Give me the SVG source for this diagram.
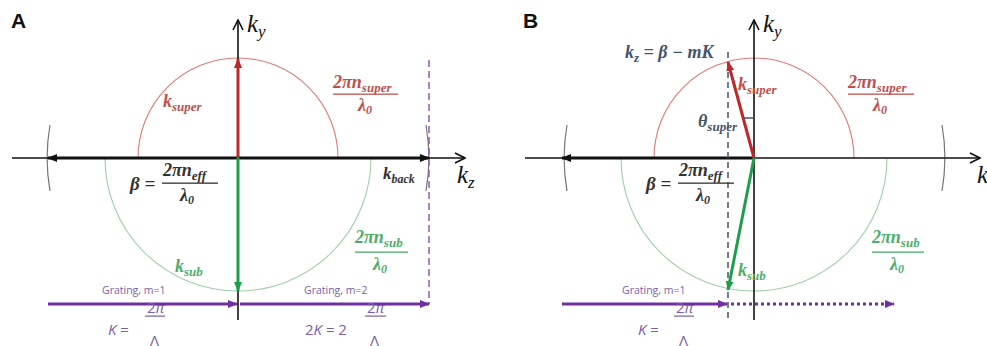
<svg xmlns="http://www.w3.org/2000/svg" width="987" height="346" viewBox="0 0 987 346">
<defs>
<style>
.ax{stroke:#111;stroke-width:1.6;fill:none}
.thick{stroke:#111;stroke-width:3;fill:none}
.red{stroke:#c0272d;stroke-width:3;fill:none}
.grn{stroke:#1e9e4c;stroke-width:3;fill:none}
.pur{stroke:#7030a0;stroke-width:3;fill:none}
.rc{stroke:#e07a78;stroke-width:1.1;fill:none}
.gc{stroke:#9fd0ab;stroke-width:1.1;fill:none}
.gray{stroke:#777;stroke-width:1.2;fill:none}
.m{font-family:"Liberation Serif",serif;font-style:italic;font-weight:bold}
.big{font-family:"Liberation Serif",serif;font-style:italic;font-size:25px;fill:#111}
.tr{fill:#c0504d}
.tg{fill:#4dae6a}
.tk{fill:#333}
.tb{fill:#44546a}
.s{font-family:"Open Sans",sans-serif;font-size:10.5px;fill:#7b5ea7}
.kp{font-family:"Open Sans",sans-serif;font-size:15px;fill:#7b5ea7}
.lab{font-family:"Liberation Sans",sans-serif;font-weight:bold;font-size:21px;fill:#111}
</style>
<marker id="open" viewBox="0 0 12 12" refX="11" refY="6" markerWidth="12" markerHeight="12" markerUnits="userSpaceOnUse" orient="auto"><path d="M1,1 L11,6 L1,11" fill="none" stroke="#111" stroke-width="1.6"/></marker>
<marker id="hk" viewBox="0 0 10 10" refX="9" refY="5" markerWidth="10" markerHeight="10" markerUnits="userSpaceOnUse" orient="auto-start-reverse"><path d="M0,1 L10,5 L0,9 Z" fill="#111"/></marker>
<marker id="hr" viewBox="0 0 10 10" refX="9" refY="5" markerWidth="10" markerHeight="10" markerUnits="userSpaceOnUse" orient="auto"><path d="M0,1 L10,5 L0,9 Z" fill="#c0272d"/></marker>
<marker id="hg" viewBox="0 0 10 10" refX="9" refY="5" markerWidth="10" markerHeight="10" markerUnits="userSpaceOnUse" orient="auto"><path d="M0,1 L10,5 L0,9 Z" fill="#1e9e4c"/></marker>
<marker id="hp" viewBox="0 0 10 10" refX="9" refY="5" markerWidth="10" markerHeight="10" markerUnits="userSpaceOnUse" orient="auto"><path d="M0,1 L10,5 L0,9 Z" fill="#7030a0"/></marker>
</defs>

<g id="panelA-label"><text class="lab" x="11" y="28">A</text></g>
<g id="panelB-label"><text class="lab" x="523" y="28">B</text></g>

<g id="circlesA">
<path class="rc" d="M138,158 A100,100 0 0 1 338,158"/>
<path class="gc" d="M105,158 A133,133 0 0 0 371,158"/>
<path class="gray" d="M50,125 A191,191 0 0 0 50,191"/>
<path class="gray" d="M426,125 A191,191 0 0 1 426,191"/>
</g>
<g id="circlesB">
<path class="rc" d="M654,158 A100,100 0 0 1 854,158"/>
<path class="gc" d="M621,158 A133,133 0 0 0 887,158"/>
<path class="gray" d="M567,125 A190,190 0 0 0 567,191"/>
<path class="gray" d="M942,125 A191,191 0 0 1 942,191"/>
</g>

<g id="connectors">
<!-- panel A -->
<line class="ax" x1="12" y1="158" x2="465" y2="158" marker-end="url(#open)"/>
<line class="ax" x1="238" y1="320" x2="238" y2="20" marker-end="url(#open)"/>
<line class="thick" x1="48" y1="158" x2="429" y2="158" marker-start="url(#hk)" marker-end="url(#hk)"/>
<line class="red" x1="238" y1="158" x2="238" y2="59" marker-end="url(#hr)"/>
<line class="grn" x1="238" y1="158" x2="238" y2="291" marker-end="url(#hg)"/>
<line x1="429" y1="60" x2="429" y2="304" stroke="#8a5fb0" stroke-width="1.5" stroke-dasharray="7,4"/>
<line class="pur" x1="48" y1="304" x2="237" y2="304" marker-end="url(#hp)"/>
<line class="pur" x1="240" y1="304" x2="429" y2="304" marker-end="url(#hp)"/>
<!-- panel B -->
<line class="ax" x1="525" y1="158" x2="980" y2="158" marker-end="url(#open)"/>
<line class="ax" x1="754" y1="320" x2="754" y2="20" marker-end="url(#open)"/>
<line class="thick" x1="562" y1="158" x2="754" y2="158" marker-start="url(#hk)"/>
<line x1="728" y1="52" x2="728" y2="320" stroke="#44546a" stroke-width="1.5" stroke-dasharray="6,4"/>
<line class="red" x1="754" y1="158" x2="728" y2="62" marker-end="url(#hr)"/>
<line class="grn" x1="754" y1="158" x2="728" y2="290" marker-end="url(#hg)"/>
<line x1="744" y1="118" x2="754" y2="118" stroke="#44546a" stroke-width="1.5"/>
<line class="pur" x1="562" y1="304" x2="727" y2="304" marker-end="url(#hp)"/>
<line class="pur" x1="731" y1="304" x2="894" y2="304" stroke-dasharray="3,3" marker-end="url(#hp)"/>
</g>

<g id="labelsA">
<text class="big" x="247" y="32">k<tspan font-size="17" dy="5">y</tspan></text>
<text class="big" x="457" y="183">k<tspan font-size="17" dy="5">z</tspan></text>
<text class="m tr" x="163" y="107" font-size="18">k<tspan font-size="13" dy="4">super</tspan></text>
<g class="m tr">
<text x="333" y="88" font-size="18">2πn<tspan font-size="13" dy="4">super</tspan></text>
<rect x="333" y="93.5" width="65" height="1.3" fill="#c0504d"/>
<text x="358" y="111" font-size="18">λ<tspan font-size="12" dy="3">0</tspan></text>
</g>
<g class="m tk">
<text x="130" y="190" font-size="19">β =</text>
<text x="163" y="176" font-size="18">2πn<tspan font-size="13" dy="4">eff</tspan></text>
<rect x="162" y="182.5" width="56" height="1.3" fill="#333"/>
<text x="180" y="201" font-size="18">λ<tspan font-size="12" dy="3">0</tspan></text>
</g>
<text class="m tk" x="383" y="179" font-size="17">k<tspan font-size="12" dy="4">back</tspan></text>
<g class="m tg">
<text x="355" y="243" font-size="18">2πn<tspan font-size="13" dy="4">sub</tspan></text>
<rect x="355" y="251.5" width="53" height="1.3" fill="#4dae6a"/>
<text x="373" y="270" font-size="18">λ<tspan font-size="12" dy="3">0</tspan></text>
</g>
<text class="m tg" x="175" y="272" font-size="18">k<tspan font-size="13" dy="4">sub</tspan></text>
<text class="s" x="102" y="294">Grating, m=1</text>
<text class="s" x="304" y="294">Grating, m=2</text>
<text class="kp" x="108" y="335"><tspan font-style="italic">K</tspan> =</text>
<text class="kp" x="147" y="313" font-size="14">2<tspan font-style="italic">π</tspan></text>
<rect x="145" y="315.5" width="20" height="1.2" fill="#7b5ea7"/>
<text class="kp" x="150" y="346">Λ</text>
<text class="kp" x="305" y="335">2<tspan font-style="italic">K</tspan> = 2</text>
<text class="kp" x="367" y="313" font-size="14">2<tspan font-style="italic">π</tspan></text>
<rect x="365" y="315.5" width="21" height="1.2" fill="#7b5ea7"/>
<text class="kp" x="370" y="346">Λ</text>
</g>

<g id="labelsB">
<text class="big" x="763" y="32">k<tspan font-size="17" dy="5">y</tspan></text>
<text class="big" x="977" y="183">k<tspan font-size="17" dy="5">z</tspan></text>
<text class="m tb" x="625" y="58" font-size="18">k<tspan font-size="13" dy="4">z</tspan><tspan dy="-4"> = β − mK</tspan></text>
<text class="m tr" x="738" y="90" font-size="18">k<tspan font-size="13" dy="4">super</tspan></text>
<text class="m tb" x="698" y="127" font-size="18">θ<tspan font-size="13" dy="4">super</tspan></text>
<g class="m tr">
<text x="848" y="88" font-size="18">2πn<tspan font-size="13" dy="4">super</tspan></text>
<rect x="848" y="93.5" width="66" height="1.3" fill="#c0504d"/>
<text x="873" y="111" font-size="18">λ<tspan font-size="12" dy="3">0</tspan></text>
</g>
<g class="m tk">
<text x="646" y="190" font-size="19">β =</text>
<text x="679" y="176" font-size="18">2πn<tspan font-size="13" dy="4">eff</tspan></text>
<rect x="678" y="182.5" width="56" height="1.3" fill="#333"/>
<text x="696" y="201" font-size="18">λ<tspan font-size="12" dy="3">0</tspan></text>
</g>
<g class="m tg">
<text x="872" y="243" font-size="18">2πn<tspan font-size="13" dy="4">sub</tspan></text>
<rect x="872" y="251.5" width="52" height="1.3" fill="#4dae6a"/>
<text x="890" y="270" font-size="18">λ<tspan font-size="12" dy="3">0</tspan></text>
</g>
<text class="m tg" x="738" y="276" font-size="18">k<tspan font-size="13" dy="4">sub</tspan></text>
<text class="s" x="622" y="294">Grating, m=1</text>
<text class="kp" x="638" y="335"><tspan font-style="italic">K</tspan> =</text>
<text class="kp" x="676" y="313" font-size="14">2<tspan font-style="italic">π</tspan></text>
<rect x="674" y="315.5" width="20" height="1.2" fill="#7b5ea7"/>
<text class="kp" x="679" y="346">Λ</text>
</g>
</svg>
